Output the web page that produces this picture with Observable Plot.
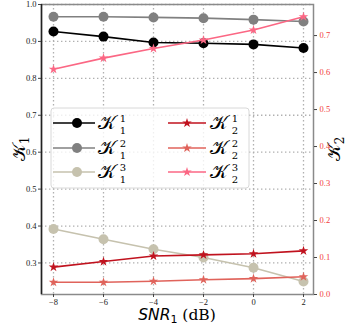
<!DOCTYPE html>
<html><head><meta charset="utf-8">
<script src="https://cdn.jsdelivr.net/npm/d3@7"></script>
<script src="https://cdn.jsdelivr.net/npm/@observablehq/plot@0.6"></script>
<style>body{margin:0;background:#fff;color:#000}#chart{width:349px;height:327px}</style>
</head><body><div id="chart"></div>
<script>
// ---- data ----
const snr = [-8, -6, -4, -2, 0, 2];
const K1_1 = [0.927, 0.913, 0.897, 0.895, 0.892, 0.882];
const K1_2 = [0.967, 0.967, 0.965, 0.963, 0.959, 0.954];
const K1_3 = [0.392, 0.364, 0.337, 0.315, 0.287, 0.250];
const K2_1 = [0.074, 0.089, 0.104, 0.107, 0.110, 0.118];
const K2_2 = [0.033, 0.033, 0.036, 0.040, 0.043, 0.048];
const K2_3 = [0.609, 0.639, 0.665, 0.688, 0.715, 0.751];
const xTicks = [-8, -6, -4, -2, 0, 2];
const leftTicks = [0.3, 0.4, 0.5, 0.6, 0.7, 0.8, 0.9, 1.0];
const rightTicks = [0.0, 0.1, 0.2, 0.3, 0.4, 0.5, 0.6, 0.7];
const seriesLabels = [["1","1"],["1","2"],["1","3"],["2","1"],["2","2"],["2","3"]];
const colors = ["#000000", "#808080", "#c6c2ae", "#c0121e", "#e0635b", "#fb6784"];

// axis domains
const L = [0.2146, 1.0], R = [0.0, 0.784];
const toLeft = v => L[0] + (v - R[0]) * (L[1] - L[0]) / (R[1] - R[0]);
const fromLeft = v => R[0] + (v - L[0]) * (R[1] - R[0]) / (L[1] - L[0]);

const vals = [K1_1, K1_2, K1_3, K2_1, K2_2, K2_3];
const data = [];
vals.forEach((arr, s) => arr.forEach((v, i) => data.push({
  s, x: snr[i], y: s < 3 ? v : toLeft(v)
})));

const serif = "Liberation Serif";
const fmtX = d => d < 0 ? "\u2212" + (-d) : String(d);

const marks = [
  Plot.gridX(xTicks, {stroke: "#b0b0b0", strokeOpacity: 1, strokeWidth: 1.3, strokeDasharray: "1.4,2.6"}),
  Plot.gridY(leftTicks, {stroke: "#b0b0b0", strokeOpacity: 1, strokeWidth: 1.3, strokeDasharray: "1.4,2.6"}),
];
for (let s = 0; s < 6; s++) {
  const d = data.filter(e => e.s === s);
  marks.push(Plot.line(d, {x: "x", y: "y", stroke: colors[s], strokeWidth: 1.6}));
  if (s < 3) marks.push(Plot.dot(d, {x: "x", y: "y", r: 5, fill: colors[s], stroke: "none"}));
  else marks.push(Plot.dot(d, {x: "x", y: "y", r: 3, symbol: "star", fill: colors[s], stroke: "none"}));
}
marks.push(
  Plot.frame({stroke: "#8a8a8a", strokeWidth: 1.5}),
  Plot.ruleX([-8.48], {stroke: "#222", strokeWidth: 1.5}),
  Plot.axisX(xTicks, {tickSize: 3, tickPadding: 1, tickFormat: fmtX, fontFamily: serif, fontSize: 8.5, fill: "#222", stroke: "#444", label: null}),
  Plot.axisY(leftTicks, {anchor: "left", tickSize: 3, tickPadding: 2, tickFormat: d => d.toFixed(1), fontFamily: serif, fontSize: 8.5, fill: "#222", stroke: "#444", label: null}),
  Plot.axisY(rightTicks.map(toLeft), {anchor: "right", tickSize: 3, tickPadding: 3, tickFormat: d => Math.abs(fromLeft(d)).toFixed(1), fontFamily: serif, fontSize: 8.5, fill: "#f23b3b", stroke: "#444", label: null})
);

const plot = Plot.plot({
  width: 349, height: 327,
  marginLeft: 41, marginRight: 36, marginTop: 4, marginBottom: 33,
  x: {domain: [-8.48, 2.4]},
  y: {domain: L},
  style: {background: "#fff", color: "#000"},
  marks
});
document.getElementById("chart").appendChild(plot);

// ---- overlay: legend and axis labels ----
const svg = d3.select(plot);
const kFont = "DejaVu Serif, DejaVu Sans, serif";
const K = "\u{1D4A6}";
const lg = svg.append("g");
lg.append("rect").attr("x", 51).attr("y", 108).attr("width", 198).attr("height", 80)
  .attr("rx", 3).attr("fill", "#fff").attr("fill-opacity", 0.8).attr("stroke", "#d8d8d8");
const rows = [123, 148, 172];
const cols = [{x0: 53, x1: 95, m: 77, t: 107}, {x0: 168, x1: 206, m: 187, t: 219}];
for (let s = 0; s < 6; s++) {
  const c = cols[s < 3 ? 0 : 1], y = rows[s % 3];
  lg.append("line").attr("x1", c.x0).attr("x2", c.x1).attr("y1", y).attr("y2", y)
    .attr("stroke", colors[s]).attr("stroke-width", 1.6);
  if (s < 3) lg.append("circle").attr("cx", c.m).attr("cy", y).attr("r", 5).attr("fill", colors[s]);
  else lg.append("path").attr("d", d3.symbol(d3.symbolStar, 9 * Math.PI)())
    .attr("transform", `translate(${c.m},${y})`).attr("fill", colors[s]);
  lg.append("text").attr("x", c.t).attr("y", y + 6).attr("font-family", kFont).attr("font-size", 19).attr("fill", "#000").text(K);
  lg.append("text").attr("x", c.t + 16).attr("y", y - 1.5).attr("font-family", kFont).attr("font-size", 10).attr("fill", "#000").text(seriesLabels[s][1]);
  lg.append("text").attr("x", c.t + 16).attr("y", y + 10.5).attr("font-family", kFont).attr("font-size", 10).attr("fill", "#000").text(seriesLabels[s][0]);
}
// y labels
function ylab(x, sub) {
  const t = svg.append("text").attr("transform", `translate(${x},149) rotate(-90)`)
    .attr("text-anchor", "middle").attr("font-family", kFont).attr("font-size", 18).attr("fill", "#000");
  t.append("tspan").text(K);
  t.append("tspan").attr("font-size", 12).attr("dy", 4).text(sub);
}
ylab(25, "1");
ylab(340, "2");
// x label
const xl = svg.append("text").attr("x", 177).attr("y", 320).attr("text-anchor", "middle").attr("font-size", 15.5).attr("fill", "#000");
xl.append("tspan").attr("font-family", "DejaVu Sans").attr("font-style", "italic").text("SNR");
xl.append("tspan").attr("font-family", "DejaVu Sans").attr("font-size", 11).attr("dy", 3).text("1");
xl.append("tspan").attr("font-family", "DejaVu Serif").attr("dy", -3).text(" (dB)");
</script></body></html>
